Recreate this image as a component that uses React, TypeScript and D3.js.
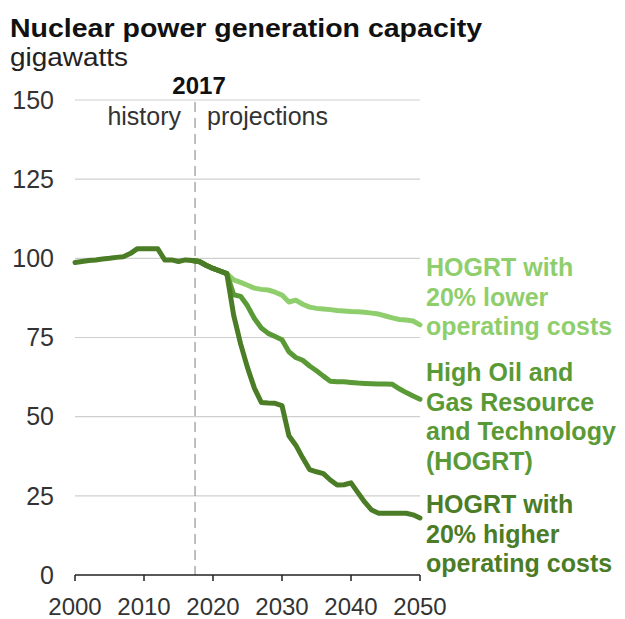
import React from "react";
import * as d3 from "d3";

// values (gigawatts)
const historyYears = d3.range(2000, 2018);
const historyValues = [98.7, 99, 99.3, 99.5, 99.8, 100, 100.3, 100.5, 101.5, 103, 103, 103, 103, 99.5, 99.5, 99, 99.5, 99.3];

const commonYears = d3.range(2017, 2023);
const commonValues = [99.3, 99, 97.8, 96.8, 96, 95.2];

const branchYears = d3.range(2023, 2051);
const lowerCostValues = [93.2, 92.4, 91.5, 90.6, 90.2, 90, 89.3, 88.4, 86.2, 86.8, 85.5, 84.6, 84.2, 84, 83.8, 83.5, 83.4, 83.2, 83.1, 83, 82.7, 82.4, 81.8, 81.2, 80.7, 80.5, 80.2, 79];
const referenceValues = [88.5, 88, 85, 81, 78, 76.3, 75.3, 74.3, 70.5, 68.7, 67.8, 66, 64.5, 62.8, 61.2, 61, 61, 60.8, 60.6, 60.5, 60.4, 60.3, 60.3, 60.2, 58.8, 57.6, 56.5, 55.5];
const higherCostValues = [82, 73, 65.5, 59, 54.5, 54.3, 54.2, 53.5, 44, 41, 37, 33.3, 32.6, 32, 30, 28.4, 28.5, 29.1, 26, 23, 20.5, 19.5, 19.5, 19.5, 19.5, 19.5, 19, 18];

const yTicks = [0, 25, 50, 75, 100, 125, 150];
const xTicks = [2000, 2010, 2020, 2030, 2040, 2050];

const lowerLabel = ["HOGRT with", "20% lower", "operating costs"];
const referenceLabel = ["High Oil and", "Gas Resource", "and Technology", "(HOGRT)"];
const higherLabel = ["HOGRT with", "20% higher", "operating costs"];

const LIGHT = "#8fce6c";
const MID = "#5a9a36";
const DARK = "#4b7c26";

type Pt = { year: number; value: number };
const toPoints = (years: number[], values: number[]): Pt[] =>
  years.map((year, i) => ({ year, value: values[i] }));

export default function App() {
  const width = 625;
  const height = 619;
  const font = "'Liberation Sans', Arial, sans-serif";

  const x = d3.scaleLinear().domain([2000, 2050]).range([75, 420]);
  const y = d3.scaleLinear().domain([0, 150]).range([575, 100]);

  const line = d3
    .line<Pt>()
    .x((d) => x(d.year))
    .y((d) => y(d.value));

  const history = toPoints(historyYears, historyValues);
  const common = toPoints(commonYears, commonValues);
  const scenarios = [
    { values: lowerCostValues, color: LIGHT },
    { values: referenceValues, color: MID },
    { values: higherCostValues, color: DARK },
  ];

  const labels = [
    { lines: lowerLabel, color: LIGHT, top: 276 },
    { lines: referenceLabel, color: MID, top: 381 },
    { lines: higherLabel, color: DARK, top: 513 },
  ];

  return (
    <svg
      width={width}
      height={height}
      style={{ position: "absolute", left: 0, top: 0, background: "#fff" }}
      fontFamily={font}
    >
      <text x={10} y={37} fontSize={26} fontWeight="bold" fill="#111" textLength={472} lengthAdjust="spacingAndGlyphs">
        Nuclear power generation capacity
      </text>
      <text x={10} y={66} fontSize={26} fill="#222" textLength={118} lengthAdjust="spacingAndGlyphs">
        gigawatts
      </text>

      {/* gridlines + y labels */}
      {yTicks.map((t) => (
        <g key={t}>
          {t > 0 && (
            <line x1={x(2000)} x2={x(2050)} y1={y(t)} y2={y(t)} stroke="#cfcfcf" strokeWidth={1.2} />
          )}
          <text x={54} y={y(t)} dy="0.35em" textAnchor="end" fontSize={25} fill="#333">
            {t}
          </text>
        </g>
      ))}

      {/* 2017 divider */}
      <line
        x1={x(2017.4)}
        x2={x(2017.4)}
        y1={y(150) + 2}
        y2={y(0)}
        stroke="#aaa"
        strokeWidth={1.5}
        strokeDasharray="10,6"
      />
      <text x={x(2017.4) + 4} y={94} textAnchor="middle" fontSize={24} fontWeight="bold" fill="#111">
        2017
      </text>
      <text x={x(2017.4) - 14} y={125} textAnchor="end" fontSize={25} fill="#333">
        history
      </text>
      <text x={x(2017.4) + 12} y={125} fontSize={25} fill="#333">
        projections
      </text>

      {/* x axis */}
      <line x1={x(2000)} x2={x(2050)} y1={y(0)} y2={y(0)} stroke="#222" strokeWidth={1.5} />
      {xTicks.map((t) => (
        <g key={t}>
          <line x1={x(t)} x2={x(t)} y1={y(0)} y2={y(0) + 6} stroke="#222" strokeWidth={1.5} />
          <text x={x(t)} y={615} textAnchor="middle" fontSize={24} fill="#333">
            {t}
          </text>
        </g>
      ))}

      {/* series */}
      {scenarios.map((s, i) => (
        <path
          key={i}
          d={line(common.concat(toPoints(branchYears, s.values))) ?? ""}
          fill="none"
          stroke={s.color}
          strokeWidth={5}
          strokeLinejoin="round"
          strokeLinecap="round"
        />
      ))}
      <path
        d={line(history.concat(common)) ?? ""}
        fill="none"
        stroke={DARK}
        strokeWidth={5}
        strokeLinejoin="round"
        strokeLinecap="round"
      />

      {/* direct labels */}
      {labels.map((l, i) => (
        <text key={i} x={426} y={l.top} fontSize={25} fontWeight="bold" fill={l.color}>
          {l.lines.map((s, j) => (
            <tspan key={j} x={426} y={l.top + j * 29.5}>
              {s}
            </tspan>
          ))}
        </text>
      ))}
    </svg>
  );
}
